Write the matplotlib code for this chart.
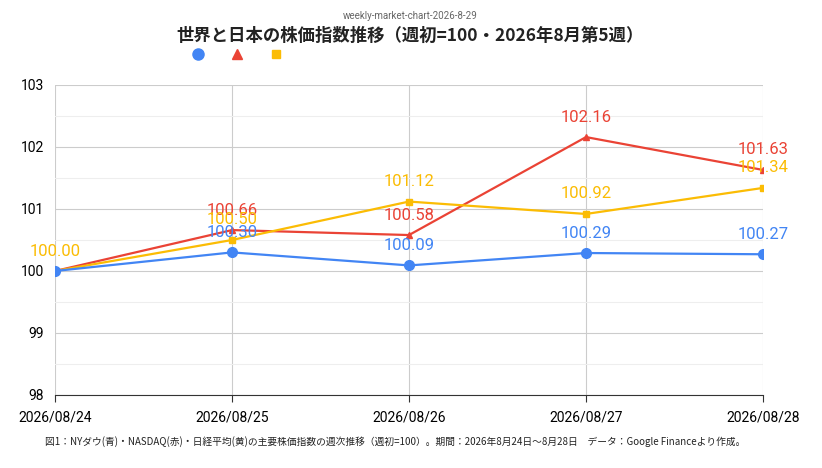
import matplotlib
matplotlib.use("Agg")
import matplotlib.pyplot as plt
from matplotlib.lines import Line2D

plt.rcParams['font.family'] = ['Roboto', 'Noto Sans CJK JP', 'DejaVu Sans']

dates = ["2026/08/24", "2026/08/25", "2026/08/26", "2026/08/27", "2026/08/28"]
nydow = [100.00, 100.30, 100.09, 100.29, 100.27]
nasdaq = [100.00, 100.66, 100.58, 102.16, 101.63]
nikkei = [100.00, 100.50, 101.12, 100.92, 101.34]

BLUE = "#4285f4"
RED = "#ea4335"
YELLOW = "#fbbc04"

fig = plt.figure(figsize=(8.22, 4.68), dpi=100)
ax = fig.add_axes([55 / 822, 1 - 395 / 468, 708 / 822, 310 / 468])

x = list(range(len(dates)))
series = [(nasdaq, RED, "^"), (nikkei, YELLOW, "s"), (nydow, BLUE, "o")]
for vals, c, m in series:
    ax.plot(x, vals, color=c, lw=1.6, marker=m, ms=7 if m == "o" else 5, zorder=3)
for vals, c, m in [(nydow, BLUE, "o"), (nasdaq, RED, "^"), (nikkei, YELLOW, "s")]:
    for i, v in enumerate(vals):
        if i == 0 and c != YELLOW:
            continue
        ax.annotate(f"{v:.2f}", (i, v), xytext=(0, 9), textcoords="offset points",
                    ha="center", va="bottom", color=c, fontsize=12, zorder=4)

ax.set_xlim(0, 4)
ax.set_ylim(98, 103)
ax.set_yticks([98, 99, 100, 101, 102, 103])
ax.set_yticks([98.5, 99.5, 100.5, 101.5, 102.5], minor=True)
ax.set_xticks(x)
ax.set_xticklabels(dates)
ax.grid(True, which="major", color="#cccccc", lw=0.8)
ax.grid(True, which="minor", axis="y", color="#eeeeee", lw=0.8)
ax.tick_params(axis="y", which="both", length=0, labelsize=10, pad=8)
ax.tick_params(axis="x", length=5, labelsize=10, color="#333333", pad=6)
for s in ("top", "right", "left"):
    ax.spines[s].set_visible(False)
ax.spines["bottom"].set_color("#333333")

fig.text(410 / 822, 1 - 16 / 468, "weekly-market-chart-2026-8-29", ha="center", va="center",
         fontsize=7, color="#666666")
fig.text(410 / 822, 1 - 36 / 468, "世界と日本の株価指数推移（週初=100・2026年8月第5週）",
         ha="center", va="center", fontsize=12.5, weight="bold", color="#222222",
         family=['Noto Sans CJK JP', 'DejaVu Sans'])
handles = [Line2D([], [], ls="none", marker="o", color=BLUE, ms=8),
           Line2D([], [], ls="none", marker="^", color=RED, ms=7),
           Line2D([], [], ls="none", marker="s", color=YELLOW, ms=6)]
fig.legend(handles=handles, labels=["", "", ""], loc="center", bbox_to_anchor=(238 / 822, 1 - 55 / 468),
           ncol=3, frameon=False, handletextpad=0.2, columnspacing=0.6)
fig.text(45 / 822, 1 - 442 / 468,
         "図1：NYダウ(青)・NASDAQ(赤)・日経平均(黄)の主要株価指数の週次推移（週初=100）。期間：2026年8月24日～8月28日　データ：Google Financeより作成。",
         ha="left", va="center", fontsize=7, color="#222222",
         family=['Noto Sans CJK JP', 'DejaVu Sans'])

fig.savefig("out.png", dpi=100, facecolor="white")
